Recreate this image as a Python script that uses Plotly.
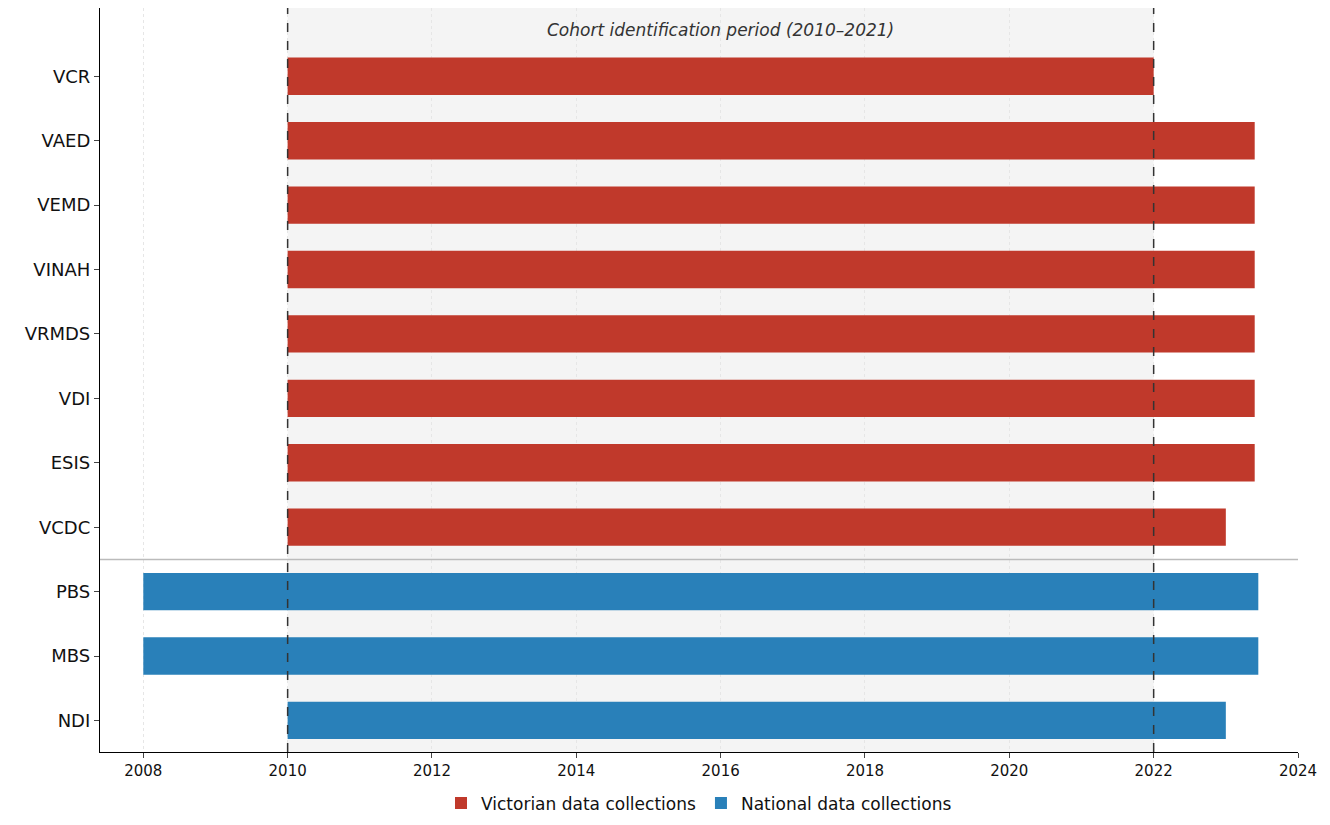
import plotly.graph_objects as go

datasets = ["VCR", "VAED", "VEMD", "VINAH", "VRMDS", "VDI", "ESIS", "VCDC", "PBS", "MBS", "NDI"]
starts = [2010, 2010, 2010, 2010, 2010, 2010, 2010, 2010, 2008, 2008, 2010]
ends = [2022.0, 2023.4, 2023.4, 2023.4, 2023.4, 2023.4, 2023.4, 2023.0, 2023.45, 2023.45, 2023.0]
groups = ["Victorian"] * 8 + ["National"] * 3
group_names = {"Victorian": "Victorian data collections", "National": "National data collections"}
colors = {"Victorian": "#c0392b", "National": "#2980b9"}
period = (2010, 2022)
ticks = list(range(2008, 2025, 2))

fig = go.Figure()
for g in ["Victorian", "National"]:
    idx = [i for i, gg in enumerate(groups) if gg == g]
    fig.add_trace(go.Bar(
        y=idx,
        x=[ends[i] - starts[i] for i in idx],
        base=[starts[i] for i in idx],
        orientation="h",
        width=0.58,
        marker=dict(color=colors[g], line=dict(width=0)),
        name=group_names[g],
    ))

fig.add_vrect(x0=period[0], x1=period[1], fillcolor="#f4f4f4", line_width=0, layer="below")
for xv in period:
    fig.add_vline(x=xv, line=dict(color="#333333", width=1.5, dash="dash"))
fig.add_hline(y=7.5, line=dict(color="#bbbbbb", width=1.5))
fig.add_annotation(x=sum(period) / 2, y=-0.72, text="<i>Cohort identification period (2010–2021)</i>",
                   showarrow=False, font=dict(size=17, color="#333333"))

fig.update_layout(
    width=1330, height=825,
    margin=dict(l=92, r=40, t=0, b=81, autoexpand=False),
    paper_bgcolor="white", plot_bgcolor="white",
    font=dict(family="DejaVu Sans", color="#111111"),
    barmode="overlay",
    legend=dict(orientation="h", x=0.5, xanchor="center", y=-0.045, yanchor="top",
                font=dict(size=17), traceorder="normal"),
)
fig.update_xaxes(range=[2007.4, 2024], tickvals=ticks, tickfont=dict(size=15),
                 showgrid=True, gridcolor="#e6e6e6", griddash="dot",
                 showline=True, linecolor="black", linewidth=1.2,
                 ticks="outside", ticklen=5, zeroline=False)
fig.update_yaxes(range=[10.49, -1.06], tickvals=list(range(len(datasets))), ticktext=datasets,
                 tickfont=dict(size=18), showgrid=False,
                 showline=True, linecolor="black", linewidth=1.2,
                 ticks="outside", ticklen=5, zeroline=False)

fig.write_html("out.html")
